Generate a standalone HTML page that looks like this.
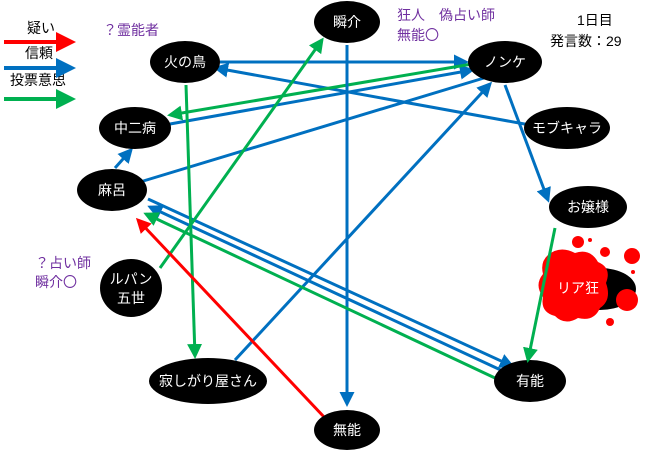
<!DOCTYPE html>
<html><head><meta charset="utf-8"><style>
body{margin:0;background:#fff}
svg{display:block;font-family:"Liberation Sans","Noto Sans CJK JP",sans-serif}
</style></head><body>
<svg width="660" height="451" viewBox="0 0 660 451" xmlns="http://www.w3.org/2000/svg">
<defs>
<marker id="b" markerWidth="5" markerHeight="5" refX="4" refY="2.5" orient="auto" markerUnits="strokeWidth"><path d="M0,0L5,2.5L0,5z" fill="#0070C0"/></marker>
<marker id="g" markerWidth="5" markerHeight="5" refX="4" refY="2.5" orient="auto" markerUnits="strokeWidth"><path d="M0,0L5,2.5L0,5z" fill="#00B050"/></marker>
<marker id="r" markerWidth="5" markerHeight="5" refX="4" refY="2.5" orient="auto" markerUnits="strokeWidth"><path d="M0,0L5,2.5L0,5z" fill="#FF0000"/></marker>
</defs>
<g font-size="14" fill="#000">
<text x="27" y="33">疑い</text><text x="25" y="58">信頼</text><text x="10" y="85">投票意思</text>
</g>
<g stroke-width="4">
<line x1="4" y1="42" x2="72" y2="42" stroke="#FF0000" marker-end="url(#r)"/>
<line x1="4" y1="68" x2="72" y2="68" stroke="#0070C0" marker-end="url(#b)"/>
<line x1="4" y1="99" x2="72" y2="99" stroke="#00B050" marker-end="url(#g)"/>
</g>
<g font-size="14" fill="#7030A0">
<text x="103" y="35">？霊能者</text>
<text x="397" y="20">狂人　偽占い師</text><text x="397" y="40">無能〇</text>
<text x="35" y="268">？占い師</text><text x="35" y="287">瞬介〇</text>
</g>
<g font-size="14" fill="#000"><text x="577" y="25">1日目</text><text x="550" y="46">発言数：29</text></g>
<g stroke-width="3" fill="none">
<line x1="220" y1="62" x2="466" y2="62" stroke="#0070C0" marker-end="url(#b)"/>
<line x1="530" y1="125" x2="216" y2="68" stroke="#0070C0" marker-end="url(#b)"/>
<line x1="170" y1="124" x2="472" y2="70" stroke="#0070C0" marker-end="url(#b)"/>
<line x1="472" y1="64" x2="170" y2="115" stroke="#00B050" marker-end="url(#g)"/>
<line x1="347" y1="45" x2="347" y2="404" stroke="#0070C0" marker-end="url(#b)"/>
<line x1="505" y1="85" x2="548" y2="200" stroke="#0070C0" marker-end="url(#b)"/>
<line x1="115" y1="168" x2="131" y2="150" stroke="#0070C0" marker-end="url(#b)"/>
<line x1="140" y1="182" x2="484" y2="78" stroke="#0070C0"/>
<line x1="235" y1="360" x2="490" y2="84" stroke="#0070C0" marker-end="url(#b)"/>
<line x1="148" y1="199" x2="512" y2="366" stroke="#0070C0" marker-end="url(#b)"/>
<line x1="505" y1="372" x2="150" y2="207" stroke="#0070C0" marker-end="url(#b)"/>
<line x1="495" y1="378" x2="146" y2="214" stroke="#00B050" marker-end="url(#g)"/>
<line x1="186" y1="85" x2="195" y2="356" stroke="#00B050" marker-end="url(#g)"/>
<line x1="160" y1="268" x2="322" y2="40" stroke="#00B050" marker-end="url(#g)"/>
<line x1="325" y1="418" x2="138" y2="220" stroke="#FF0000" marker-end="url(#r)"/>
</g>
<g fill="#000">
<ellipse cx="185" cy="62" rx="35" ry="21"/>
<ellipse cx="347" cy="22" rx="33" ry="21"/>
<ellipse cx="505" cy="62" rx="37" ry="21"/>
<ellipse cx="135" cy="128" rx="36" ry="21"/>
<ellipse cx="567" cy="128" rx="43" ry="21"/>
<ellipse cx="112" cy="190" rx="35" ry="21"/>
<ellipse cx="588" cy="207" rx="39" ry="21"/>
<ellipse cx="600" cy="289" rx="36" ry="21"/>
<ellipse cx="131" cy="288" rx="31" ry="29"/>
<ellipse cx="208" cy="381" rx="59" ry="23"/>
<ellipse cx="530" cy="381" rx="36" ry="21"/>
<ellipse cx="347" cy="430" rx="33" ry="20"/>
</g>
<g fill="#FF0000">
<path d="M548,255 Q560,245 575,253 Q590,248 598,262 Q612,268 606,283 Q612,300 600,308 Q594,322 578,318 Q565,326 555,316 Q540,312 543,297 Q534,285 543,274 Q540,262 548,255z"/>
<circle cx="627" cy="300" r="11"/><circle cx="632" cy="256" r="8"/><circle cx="605" cy="252" r="5"/>
<circle cx="578" cy="242" r="6"/><circle cx="590" cy="240" r="2"/><circle cx="610" cy="322" r="4"/>
<circle cx="633" cy="272" r="2"/><circle cx="547" cy="277" r="3"/>
</g>
<line x1="555" y1="228" x2="528" y2="360" stroke="#00B050" stroke-width="3" marker-end="url(#g)"/>
<g font-size="14" fill="#fff" text-anchor="middle">
<text x="185" y="67">火の鳥</text><text x="347" y="27">瞬介</text><text x="505" y="67">ノンケ</text>
<text x="135" y="133">中二病</text><text x="567" y="133">モブキャラ</text><text x="112" y="195">麻呂</text>
<text x="588" y="212">お嬢様</text><text x="578" y="293">リア狂</text>
<text x="131" y="284">ルパン</text><text x="131" y="303">五世</text>
<text x="208" y="386">寂しがり屋さん</text><text x="530" y="386">有能</text><text x="347" y="435">無能</text>
</g>
</svg>
</body></html>
